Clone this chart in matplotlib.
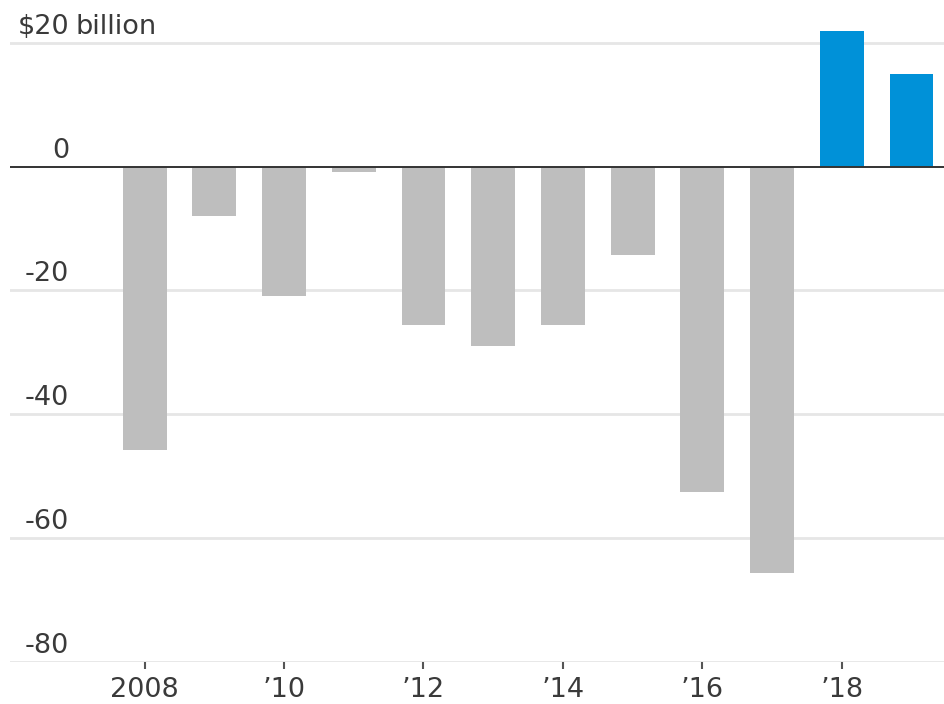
import numpy as np
import matplotlib.pyplot as plt

# ── Data ───────────────────────────────────────────────────────────────────────
years  = [2008, 2009, 2010, 2011, 2012, 2013, 2014, 2015, 2016, 2017, 2018, 2019]
values = [-45.7, -7.9, -20.9, -0.9, -25.6, -29.0, -25.6, -14.2, -52.6, -65.7, 21.9, 14.9]
yticks = [20, 0, -20, -40, -60, -80]
ytick_labels = ["$20", "0", "-20", "-40", "-60", "-80"]
xticks = [2008, 2010, 2012, 2014, 2016, 2018]
xtick_labels = ["2008", "\u201910", "\u201912", "\u201914", "\u201916", "\u201918"]

C_NEG  = "#BEBEBE"
C_POS  = "#0091D8"
C_GRID = "#E6E6E6"
C_TEXT = "#3A3A3A"

plt.rcParams["font.family"] = ["DejaVu Sans"]
FS = 19.5

fig = plt.figure(figsize=(9.45, 7.04), dpi=100)
ax = fig.add_axes([10 / 945, 1 - 662 / 704, 935 / 945, (662 - 23) / 704])

colors = [C_POS if v > 0 else C_NEG for v in values]
ax.bar(years, values, width=0.63, color=colors, zorder=2)

ax.set_xlim(2006.07, 2019.48)
ax.set_ylim(-80, 23.2)

# gridlines
for t in yticks:
    if t == 0:
        ax.axhline(0, color="#333333", lw=1.4, zorder=3)
    else:
        ax.axhline(t, color=C_GRID, lw=2, zorder=1)

# y labels sit on top of gridlines, right-aligned
for t, lab in zip(yticks, ytick_labels):
    ax.annotate(lab, xy=(0, t), xycoords=("axes fraction", "data"),
                xytext=(59, 3), textcoords="offset pixels",
                ha="right", va="bottom", fontsize=FS, color=C_TEXT)
ax.annotate("billion", xy=(0, 20), xycoords=("axes fraction", "data"),
            xytext=(66, 3), textcoords="offset pixels",
            ha="left", va="bottom", fontsize=FS, color=C_TEXT)

ax.set_yticks([])
ax.set_xticks(xticks)
ax.set_xticklabels(xtick_labels, fontsize=FS, color=C_TEXT)
ax.tick_params(axis="x", length=5, width=1.5, color="#555555", pad=6)

for s in ax.spines.values():
    s.set_visible(False)

fig.savefig("out.png", dpi=100, facecolor="white")
